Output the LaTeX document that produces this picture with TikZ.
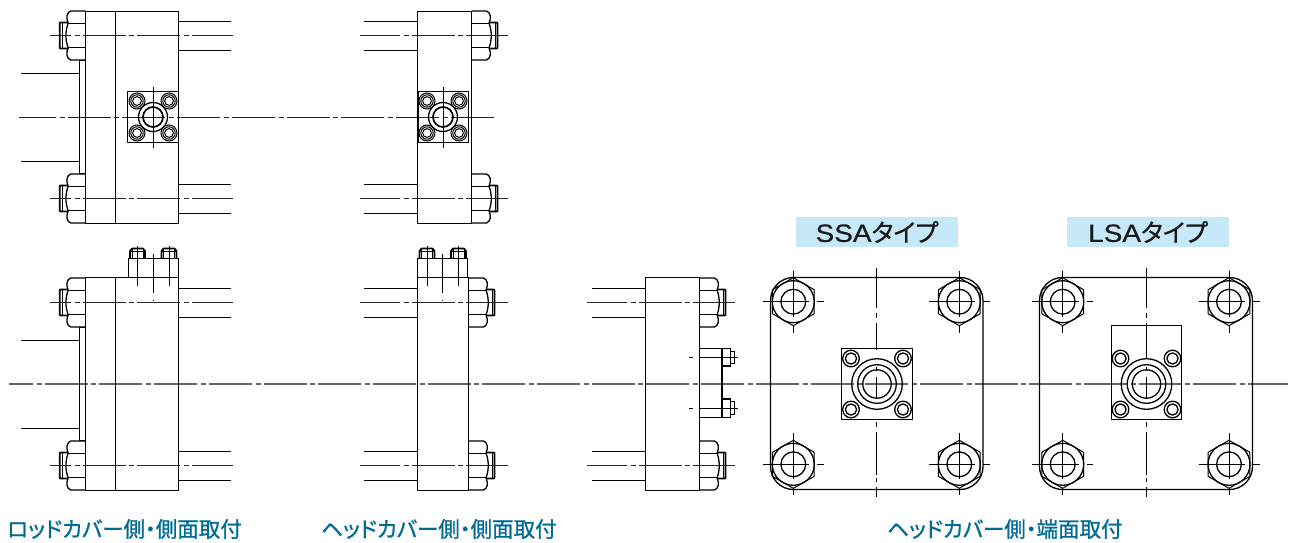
\documentclass[tikz,border=0pt]{standalone}
\usepackage{fontspec}
\setmainfont{Liberation Sans}
\newfontfamily\lat[FakeStretch=1.12,FakeBold=0.5]{Liberation Sans}
\newfontfamily\cjkf[FakeBold=1.0,RawFeature={+palt}]{Noto Sans CJK JP}
\newfontfamily\cjkt[FakeBold=0.6,RawFeature={+palt}]{Noto Sans CJK JP}
\definecolor{capblue}{HTML}{006C96}
\definecolor{tagblue}{HTML}{C6E9F9}
\tikzset{
  ln/.style={line width=1.3pt,line join=round},
  thk/.style={line width=1.7pt,line join=round},
  thn/.style={line width=1pt},
  cl/.style={line width=1.2pt,black!85,dash pattern=on 43pt off 3.7pt on 5pt off 3pt},
  tagbox/.style={fill=tagblue,minimum width=162pt,minimum height=30pt,inner sep=0pt,
    font=\fontsize{25}{25}\selectfont,text=black!90},
  captext/.style={inner sep=0pt,text=capblue,font=\fontsize{21.5}{21.5}\selectfont\cjkf}
}
% side nut: edge x, centre y, direction (+1 right, -1 left)
\newcommand{\nutS}[3]{%
  \begin{scope}[shift={(#1,#2)},xscale=#3]
    \draw[ln] (0,-24.5) -- (15,-24.5) .. controls (19,-23) and (20,-18) .. (17.5,-12.3)
      .. controls (20.5,-5) and (20.5,5) .. (17.5,12.3)
      .. controls (20,18) and (19,23) .. (15,24.5) -- (0,24.5);
    \draw[ln] (0,-12.3) -- (17.5,-12.3) (0,12.3) -- (17.5,12.3);
    \draw[thk] (17.5,-13) -- (24.5,-13) .. controls (26,-13) .. (26,-11.5) -- (26,11.5)
      .. controls (26,13) .. (24.5,13) -- (17.5,13);
    \draw[thn] (23.5,-13) -- (23.5,13);
  \end{scope}}
% mounting block with port seen from the side
\newcommand{\portS}[2]{%
  \begin{scope}[shift={(#1,#2)}]
    \draw[thn] (0,-30) -- (0,31);
    \draw[ln] (0,0) circle (14.5);
    \draw[thk] (0,0) circle (10);
    \foreach \a/\b in {-16/-16,16/-16,-16/16,16/16}{
      \draw[thn] (\a,\b) circle (8);
      \draw[thn] (\a,\b) circle (6.2);
      \draw[thn] (\a,\b) circle (4.4);}
  \end{scope}}
% bolt head seen from above
\newcommand{\headT}[3]{%
  \begin{scope}[shift={(#1,#2)}]
    \draw[thk] (-7.5,10) -- (-7.5,2.5) -- (-5.5,0) -- (5.5,0) -- (7.5,2.5) -- (7.5,10);
    \draw[thn] (-5.5,0) -- (-5.5,10) (5.5,0) -- (5.5,10) (-7.5,3) -- (7.5,3);
    \draw[thn] (0,-3) -- (0,#3);
  \end{scope}}
% hexagon nut seen from the end
\newcommand{\nutE}[2]{%
  \begin{scope}[shift={(#1,#2)}]
    \draw[thn] (0,-24) -- (20.9,-12) -- (20.9,12) -- (0,24) -- (-20.9,12) -- (-20.9,-12) -- cycle;
    \draw[line width=1.3pt] (0,0) circle (21);
    \draw[ln] (0,0) circle (12.4);
    \draw[thn] (-30.5,0) -- (16,0) (24,0) -- (30.5,0);
    \draw[thn] (0,-31) -- (0,15) (0,24) -- (0,31);
  \end{scope}}
% port seen from the end
\newcommand{\portE}[2]{%
  \begin{scope}[shift={(#1,#2)}]
    \draw[ln] (0,0) circle (25.3);
    \draw[ln] (0,0) circle (19.3);
    \draw[ln] (0,0) circle (14.2);
    \foreach \a/\b in {-26/-25.5,26/-25.5,-26/25.5,26/25.5}{
      \draw[ln] (\a,\b) circle (8.3);
      \draw[ln] (\a,\b) circle (5.6);}
  \end{scope}}
\begin{document}
\begin{tikzpicture}[x=1pt,y=-1pt]
\useasboundingbox (0,0) rectangle (1294,542);
% ---------- long centre lines
\draw[cl,dash phase=6pt] (19,117.3) -- (494,117.3);
\draw[cl,black!60,dash phase=19pt] (9,384) -- (1288,384);
% ---------- view A top
\draw[ln] (85.7,11.5) rectangle (178.4,223.5);
\draw[ln] (115.7,11.5) -- (115.7,223.5);
\draw[ln] (85.7,60.5) -- (79.5,60.5) -- (79.5,173.5) -- (85.7,173.5);
\draw[ln] (21,73.5) -- (79.5,73.5) (21,161.5) -- (79.5,161.5);
\nutS{85.7}{35.5}{-1}\nutS{85.7}{198.5}{-1}
\draw[ln] (178.4,21.5) -- (231,21.5) (178.4,50.5) -- (231,50.5) (178.4,184.5) -- (231,184.5) (178.4,213.5) -- (231,213.5);
\draw[cl,dash phase=22pt] (50,35.5) -- (233,35.5);
\draw[cl,dash phase=22pt] (50,198.5) -- (233,198.5);
\draw[ln] (127.5,91.5) rectangle (178.4,142.5);
\portS{153}{117}
% ---------- view B top
\draw[ln] (417.5,11.5) rectangle (471.5,223.5);
\nutS{471.5}{35.5}{1}\nutS{471.5}{198.5}{1}
\draw[ln] (364,21.5) -- (417.5,21.5) (364,50.5) -- (417.5,50.5) (364,184.5) -- (417.5,184.5) (364,213.5) -- (417.5,213.5);
\draw[cl,dash phase=3pt] (360,35.5) -- (508,35.5);
\draw[cl,dash phase=3pt] (360,198.5) -- (508,198.5);
\draw[ln] (418.5,91.5) rectangle (468.5,142.5);
\portS{443}{117}
% ---------- view A bottom
\draw[ln] (85.7,277.5) rectangle (178.4,490.5);
\draw[ln] (115.7,277.5) -- (115.7,490.5);
\draw[ln] (85.7,327.5) -- (79.5,327.5) -- (79.5,440.5) -- (85.7,440.5);
\draw[ln] (21,340.5) -- (79.5,340.5) (21,428.5) -- (79.5,428.5);
\nutS{85.7}{302.5}{-1}\nutS{85.7}{465.5}{-1}
\draw[ln] (178.4,288.5) -- (231,288.5) (178.4,317.5) -- (231,317.5) (178.4,451.5) -- (231,451.5) (178.4,480.5) -- (231,480.5);
\draw[cl,dash phase=22pt] (50,302.5) -- (233,302.5);
\draw[cl,dash phase=22pt] (50,465.5) -- (233,465.5);
\draw[ln] (128.5,277.5) -- (128.5,258.5) -- (178.4,258.5) -- (178.4,277.5);
\headT{137.5}{248.5}{37}\headT{169}{248.5}{37}
\draw[thn] (153,254) -- (153,293) (153,299.5) -- (153,301);
% ---------- view B bottom
\draw[ln] (417.5,277.5) rectangle (468.5,490.5);
\draw[thk] (417.5,277.5) -- (468.5,277.5);
\nutS{468.5}{302.5}{1}\nutS{468.5}{465.5}{1}
\draw[ln] (364,288.5) -- (417.5,288.5) (364,317.5) -- (417.5,317.5) (364,451.5) -- (417.5,451.5) (364,480.5) -- (417.5,480.5);
\draw[cl,dash phase=3pt] (360,302.5) -- (508,302.5);
\draw[cl,dash phase=3pt] (360,465.5) -- (508,465.5);
\draw[ln] (417.5,277.5) -- (417.5,258.5) -- (467.5,258.5) -- (467.5,277.5);
\headT{427}{248.5}{37}\headT{458.5}{248.5}{37}
\draw[thn] (442.5,254) -- (442.5,293) (442.5,299.5) -- (442.5,301);
% ---------- view C
\draw[ln] (645.5,277.5) rectangle (699.5,490.5);
\nutS{699.5}{302.5}{1}\nutS{699.5}{465.5}{1}
\draw[ln] (592,288.5) -- (645.5,288.5) (592,317.5) -- (645.5,317.5) (592,451.5) -- (645.5,451.5) (592,480.5) -- (645.5,480.5);
\draw[cl,dash phase=3pt] (587,302.5) -- (735,302.5);
\draw[cl,dash phase=3pt] (587,465.5) -- (735,465.5);
\draw[ln] (699.5,348.5) rectangle (722,417.5);
\draw[line width=1.4pt] (722,348.5) rectangle (730.5,366) (722,399) rectangle (730.5,417.5);
\draw[thn] (730.5,351) -- (734.5,351) -- (734.5,363.5) -- (730.5,363.5)
          (730.5,401.5) -- (734.5,401.5) -- (734.5,414.5) -- (730.5,414.5);
\draw[thn] (689,357.5) -- (693,357.5) (699.5,357.5) -- (738,357.5) (689,408.5) -- (693,408.5) (699.5,408.5) -- (738,408.5);
% ---------- SSA
\node[tagbox] (ssa) at (877,232) {{\lat SSA}{\cjkt タイプ}};
\draw[ln,rounded corners=23pt] (770.5,277.5) rectangle (983,489.5);
\foreach \px/\py in {793.3/301.7,959.3/301.7,793.3/464.3,959.3/464.3}{\nutE{\px}{\py}}
\draw[ln] (841.5,348.5) rectangle (912.5,419.5);
\portE{877}{384}
\draw[thn] (876.8,268) -- (876.8,308) (876.8,313) -- (876.8,317.5) (876.8,323) -- (876.8,350)
  (876.8,367) -- (876.8,371) (876.8,377) -- (876.8,398)
  (876.8,422) -- (876.8,427) (876.8,432) -- (876.8,475) (876.8,478) -- (876.8,482) (876.8,487) -- (876.8,497);
% ---------- LSA
\node[tagbox] (lsa) at (1148,232) {{\lat LSA}{\cjkt タイプ}};
\draw[ln,rounded corners=23pt] (1039.5,277.5) rectangle (1252.5,489.5);
\foreach \px/\py in {1062.7/301.7,1229/301.7,1062.7/464.3,1229/464.3}{\nutE{\px}{\py}}
\draw[ln] (1111.5,325.5) rectangle (1181.5,419.5);
\portE{1146.5}{384}
\draw[thn] (1146.2,268) -- (1146.2,308) (1146.2,313) -- (1146.2,317.5) (1146.2,323) -- (1146.2,358)
  (1146.2,367) -- (1146.2,371) (1146.2,377) -- (1146.2,398)
  (1146.2,422) -- (1146.2,427) (1146.2,432) -- (1146.2,475) (1146.2,478) -- (1146.2,482) (1146.2,487) -- (1146.2,497);
% ---------- captions
\node[captext,anchor=west] (c1) at (7,529) {ロッドカバー側・側面取付};
\node[captext,anchor=west] (c2) at (321,529) {ヘッドカバー側・側面取付};
\node[captext,anchor=west] (c3) at (887,529) {ヘッドカバー側・端面取付};
\end{tikzpicture}
\end{document}
